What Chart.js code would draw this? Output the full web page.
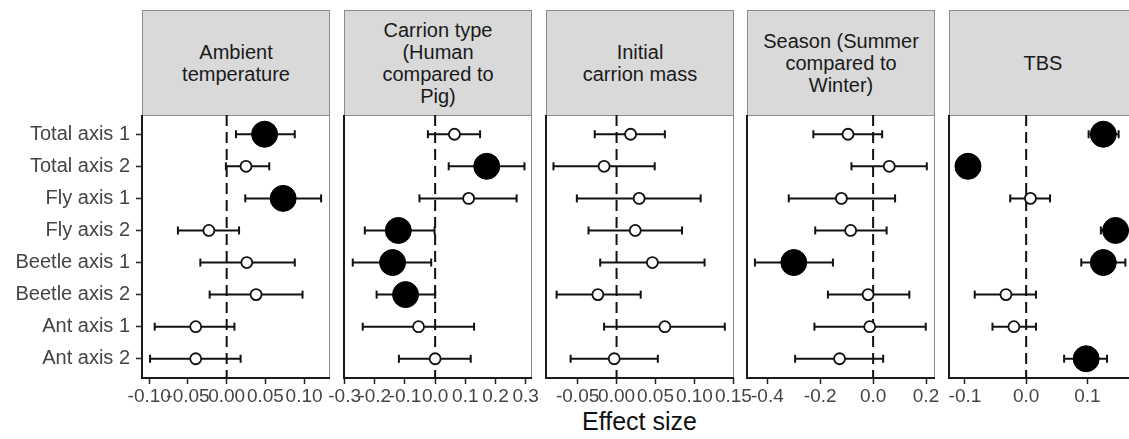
<!DOCTYPE html>
<html>
<head>
<meta charset="utf-8">
<script src="https://cdn.jsdelivr.net/npm/chart.js@4.4.1/dist/chart.umd.min.js"></script>
<style>
  html, body { margin: 0; padding: 0; background: #fff; }
  body { width: 1129px; height: 439px; overflow: hidden; position: relative; font-family: "Liberation Sans", Arial, sans-serif; }
  .strip { position: absolute; top: 10px; height: 106px; box-sizing: border-box; background: #d9d9d9; border: 1px solid #8c8c8c;
           display: flex; align-items: center; justify-content: center; text-align: center; font-size: 20px; line-height: 22px; color: #1a1a1a; }
  .panel { position: absolute; top: 110px; height: 329px; }
  #xtitle { position: absolute; left: 142px; width: 995px; top: 407px; text-align: center; font-size: 25px; color: #111; }
</style>
</head>
<body>
<div id="xtitle">Effect size</div>
<script>
// rows, top to bottom
const categories = ["Total axis 1", "Total axis 2", "Fly axis 1", "Fly axis 2",
                    "Beetle axis 1", "Beetle axis 2", "Ant axis 1", "Ant axis 2"];

// Ambient temperature
const tempEst = [0.049, 0.025, 0.073, -0.023, 0.026, 0.038, -0.040, -0.040];
const tempLo  = [0.012, -0.001, 0.024, -0.063, -0.034, -0.022, -0.093, -0.099];
const tempHi  = [0.088, 0.055, 0.122, 0.016, 0.088, 0.098, 0.010, 0.018];
const tempSig = [true, false, true, false, false, false, false, false];
const tempTicks = ["-0.10", "-0.05", "0.00", "0.05", "0.10"];

// Carrion type (Human compared to Pig)
const typeEst = [0.064, 0.171, 0.111, -0.122, -0.141, -0.098, -0.055, 0.000];
const typeLo  = [-0.024, 0.045, -0.052, -0.233, -0.273, -0.194, -0.240, -0.120];
const typeHi  = [0.149, 0.296, 0.270, -0.002, -0.013, 0.000, 0.129, 0.118];
const typeSig = [false, true, false, true, true, true, false, false];
const typeTicks = ["-0.3", "-0.2", "-0.1", "0.0", "0.1", "0.2", "0.3"];

// Initial carrion mass
const massEst = [0.018, -0.016, 0.029, 0.024, 0.046, -0.024, 0.062, -0.003];
const massLo  = [-0.028, -0.081, -0.051, -0.036, -0.021, -0.077, -0.016, -0.059];
const massHi  = [0.062, 0.049, 0.108, 0.084, 0.113, 0.031, 0.139, 0.053];
const massSig = [false, false, false, false, false, false, false, false];
const massTicks = ["-0.05", "0.00", "0.05", "0.10", "0.15"];

// Season (Summer compared to Winter)
const seasonEst = [-0.095, 0.061, -0.120, -0.085, -0.300, -0.019, -0.013, -0.127];
const seasonLo  = [-0.226, -0.082, -0.319, -0.219, -0.447, -0.171, -0.222, -0.295];
const seasonHi  = [0.034, 0.203, 0.083, 0.051, -0.152, 0.137, 0.199, 0.038];
const seasonSig = [false, false, false, false, true, false, false, false];
const seasonTicks = ["-0.4", "-0.2", "0.0", "0.2"];

// TBS
const tbsEst = [0.126, -0.095, 0.007, 0.146, 0.126, -0.033, -0.020, 0.098];
const tbsLo  = [0.102, -0.100, -0.026, 0.122, 0.090, -0.084, -0.055, 0.062];
const tbsHi  = [0.151, -0.089, 0.039, 0.170, 0.162, 0.016, 0.016, 0.132];
const tbsSig = [true, true, false, true, true, false, false, true];
const tbsTicks = ["-0.1", "0.0", "0.1"];

const panels = [
  { title: "Ambient<br>temperature", est: tempEst, lo: tempLo, hi: tempHi, sig: tempSig, ticks: tempTicks, min: -0.1094, max: 0.1335 },
  { title: "Carrion type<br>(Human<br>compared to<br>Pig)", est: typeEst, lo: typeLo, hi: typeHi, sig: typeSig, ticks: typeTicks, min: -0.302, max: 0.321 },
  { title: "Initial<br>carrion mass", est: massEst, lo: massLo, hi: massHi, sig: massSig, ticks: massTicks, min: -0.0906, max: 0.1508 },
  { title: "Season (Summer<br>compared to<br>Winter)", est: seasonEst, lo: seasonLo, hi: seasonHi, sig: seasonSig, ticks: seasonTicks, min: -0.477, max: 0.234 },
  { title: "TBS", est: tbsEst, lo: tbsLo, hi: tbsHi, sig: tbsSig, ticks: tbsTicks, min: -0.126, max: 0.181 },
];

const panelLeft = [142, 344, 546, 747, 949];
const panelWidth = 188;
const font = { family: "'Liberation Sans', Arial, sans-serif", size: 19 };

// panel border, dashed zero line and the black left/bottom axis lines
const framePlugin = {
  id: "frame",
  beforeDatasetsDraw(chart) {
    const { ctx, chartArea: a, scales: { x } } = chart;
    ctx.save();
    ctx.strokeStyle = "#8c8c8c";
    ctx.lineWidth = 1;
    ctx.strokeRect(a.left + 0.5, a.top + 0.5, a.width - 1, a.height - 1);
    const x0 = x.getPixelForValue(0);
    ctx.strokeStyle = "#111";
    ctx.lineWidth = 2;
    ctx.setLineDash([11, 6]);
    ctx.beginPath();
    ctx.moveTo(x0, a.top);
    ctx.lineTo(x0, a.bottom);
    ctx.stroke();
    ctx.setLineDash([]);
    ctx.strokeStyle = "#1a1a1a";
    ctx.beginPath();
    ctx.moveTo(a.left, a.top);
    ctx.lineTo(a.left, a.bottom);
    ctx.lineTo(a.right, a.bottom);
    ctx.stroke();
    ctx.restore();
  }
};

panels.forEach((p, i) => {
  // strip header
  const strip = document.createElement("div");
  strip.className = "strip";
  strip.style.left = panelLeft[i] + "px";
  strip.style.width = panelWidth + "px";
  strip.innerHTML = p.title;
  document.body.appendChild(strip);

  const padL = i === 0 ? 0 : 30;
  const yWidth = i === 0 ? panelLeft[0] : 0;
  const padR = 30;
  const box = document.createElement("div");
  box.className = "panel";
  box.style.left = (panelLeft[i] - padL - yWidth) + "px";
  box.style.width = (panelWidth + padL + yWidth + padR) + "px";
  const canvas = document.createElement("canvas");
  box.appendChild(canvas);
  document.body.appendChild(box);

  const rows = categories.map((c, r) => r);
  const errorSets = rows.map(r => ({
    data: [{ x: p.lo[r], y: r + 1 }, { x: p.hi[r], y: r + 1 }],
    showLine: true,
    borderColor: "#111",
    borderWidth: 2,
    pointStyle: "line",
    pointRotation: 90,
    pointRadius: 4,
    pointBorderWidth: 2,
    pointBorderColor: "#111",
    order: 2
  }));
  const openSet = {
    data: rows.filter(r => !p.sig[r]).map(r => ({ x: p.est[r], y: r + 1 })),
    pointRadius: 5.5,
    pointBackgroundColor: "#fff",
    pointBorderColor: "#111",
    pointBorderWidth: 1.8,
    order: 1
  };
  const filledSet = {
    data: rows.filter(r => p.sig[r]).map(r => ({ x: p.est[r], y: r + 1 })),
    pointRadius: 13,
    pointBackgroundColor: "#000",
    pointBorderColor: "#000",
    pointBorderWidth: 1,
    order: 0
  };

  new Chart(canvas, {
    type: "scatter",
    data: { datasets: [...errorSets, openSet, filledSet] },
    options: {
      responsive: true,
      maintainAspectRatio: false,
      animation: false,
      events: [],
      layout: { autoPadding: false, padding: { left: padL, right: padR, top: 5, bottom: 0 } },
      plugins: { legend: { display: false }, tooltip: { enabled: false } },
      scales: {
        x: {
          type: "linear",
          min: p.min,
          max: p.max,
          afterBuildTicks: s => { s.ticks = p.ticks.map(t => ({ value: parseFloat(t) })); },
          afterFit: s => { s.height = 61; s.paddingLeft = 0; s.paddingRight = 0; s.paddingTop = 0; s.paddingBottom = 0; },
          ticks: {
            autoSkip: false, maxRotation: 0, minRotation: 0, padding: 1,
            color: "#444", font: font,
            callback: (v, k) => p.ticks[k]
          },
          grid: { drawOnChartArea: false, drawTicks: true, tickLength: 6, tickColor: "#222", tickWidth: 1.5 },
          border: { display: false }
        },
        y: {
          type: "linear",
          display: i === 0,
          reverse: true,
          min: 0.4,
          max: 8.6,
          afterBuildTicks: s => { s.ticks = categories.map((c, r) => ({ value: r + 1 })); },
          afterFit: s => { s.width = yWidth; s.paddingLeft = 0; s.paddingRight = 0; s.paddingTop = 0; s.paddingBottom = 0; },
          ticks: {
            padding: 6, color: "#444", font: { family: font.family, size: 20 },
            callback: v => categories[v - 1]
          },
          grid: { drawOnChartArea: false, drawTicks: true, tickLength: 6, tickColor: "#222", tickWidth: 1.5 },
          border: { display: false }
        }
      }
    },
    plugins: [framePlugin]
  });
});
</script>
</body>
</html>
